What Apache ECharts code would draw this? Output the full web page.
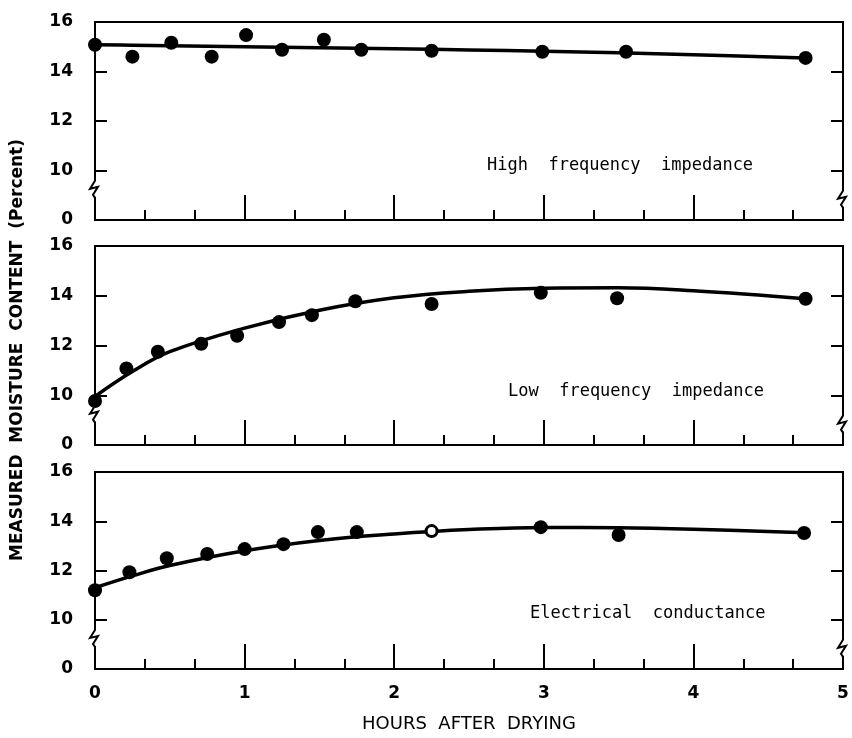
<!doctype html>
<html>
<head>
<meta charset="utf-8">
<title>Measured moisture content</title>
<script src="https://cdn.jsdelivr.net/npm/echarts/dist/echarts.min.js"></script>
<style>
    html,body{
        margin: 0;
        width: 100%;
        height: 100%;
        background: #fff;
    }
    #chart{
        width: 852px;
        height: 738px;
    }
</style>
</head>
<body>
    <div id="chart"></div>
<script>
    // measured points (hours, percent)
    var highX = [0, 0.25, 0.51, 0.78, 1.01, 1.25, 1.53, 1.78, 2.25, 2.99, 3.55, 4.75];
    var highY = [15.08, 14.6, 15.16, 14.6, 15.47, 14.88, 15.28, 14.88, 14.84, 14.8, 14.8, 14.55];
    var lowX = [0, 0.21, 0.42, 0.71, 0.95, 1.23, 1.45, 1.74, 2.25, 2.98, 3.49, 4.75];
    var lowY = [9.77, 11.08, 11.75, 12.07, 12.39, 12.94, 13.22, 13.78, 13.67, 14.12, 13.9, 13.88];
    var elecX = [0, 0.23, 0.48, 0.75, 1.0, 1.26, 1.49, 1.75, 2.98, 3.5, 4.74];
    var elecY = [11.2, 11.93, 12.5, 12.67, 12.87, 13.07, 13.56, 13.56, 13.76, 13.44, 13.52];
    var elecOpenX = [2.25];
    var elecOpenY = [13.6];

    // fitted curves
    var curveX = [0, 0.25, 0.5, 1, 1.5, 2, 2.5, 3, 3.5, 4, 4.75];
    var highFit = [15.08, 15.06, 15.04, 15.0, 14.96, 14.92, 14.87, 14.82, 14.76, 14.68, 14.55];
    var lowFit = [9.95, 10.95, 11.75, 12.7, 13.42, 13.92, 14.18, 14.3, 14.32, 14.2, 13.88];
    var elecFit = [11.3, 11.78, 12.2, 12.8, 13.22, 13.48, 13.66, 13.75, 13.74, 13.68, 13.53];

    // axis: "0" is drawn where 8 would be, below the break
    var yTicks = [8, 10, 12, 14, 16];
    var yTickText = ['0', '10', '12', '14', '16'];
    var xTickText = ['0', '1', '2', '3', '4', '5'];
    var breakLeft = 9.3, breakRight = 8.9;

    var panelNames = ['High  frequency  impedance', 'Low  frequency  impedance', 'Electrical  conductance'];

    function pairs(xs, ys){
        var out = [];
        for(var i = 0; i < xs.length; i++){ out.push([xs[i], ys[i]]); }
        return out;
    }

    function renderBreak(params, api){
        var p = api.coord([api.value(0), api.value(1)]);
        var x = p[0], y = p[1];
        return {
            type: 'group',
            children: [
                {type: 'rect', shape: {x: x - 6, y: y - 9, width: 12, height: 18}, style: {fill: '#fff'}},
                {type: 'polyline', shape: {points: [[x, y - 10], [x, y - 7], [x - 5, y + 1], [x + 3, y - 1], [x - 2, y + 7], [x, y + 10]]},
                    style: {stroke: '#000', lineWidth: 2, fill: null}}
            ]
        };
    }

    var grids = [
        {left: 95, right: 9, top: 22, height: 198},
        {left: 95, right: 9, top: 246, height: 199},
        {left: 95, right: 9, top: 472, height: 197}
    ];
    grids.forEach(function(g){
        g.show = true;
        g.borderColor = '#000';
        g.borderWidth = 2;
        g.backgroundColor = 'transparent';
    });

    var axisFont = {color: '#000', fontFamily: 'DejaVu Sans', fontWeight: 'bold', fontSize: 17};

    var xAxes = [], yAxes = [], series = [];
    for(var i = 0; i < 3; i++){
        xAxes.push({
            type: 'value', gridIndex: i, min: 0, max: 5, interval: 1,
            axisLine: {lineStyle: {color: '#000', width: 2}},
            axisTick: {inside: true, length: 25, lineStyle: {color: '#000', width: 2}},
            minorTick: {show: true, splitNumber: 3, length: 10, lineStyle: {color: '#000', width: 2}},
            splitLine: {show: false},
            axisLabel: i === 2 ? Object.assign({margin: 16, formatter: function(v){ return xTickText[Math.round(v)]; }}, axisFont) : {show: false},
            name: i === 2 ? 'HOURS  AFTER  DRYING' : '',
            nameLocation: 'middle',
            nameGap: 46,
            nameTextStyle: {color: '#000', fontFamily: 'DejaVu Sans', fontSize: 18}
        });
        yAxes.push({
            type: 'value', gridIndex: i, min: yTicks[0], max: yTicks[yTicks.length - 1], interval: 2,
            axisLine: {lineStyle: {color: '#000', width: 2}},
            axisTick: {inside: true, length: 12, lineStyle: {color: '#000', width: 2}},
            splitLine: {show: false},
            axisLabel: Object.assign({margin: 22, formatter: function(v){ return yTickText[yTicks.indexOf(v)]; }}, axisFont)
        });
        yAxes.push({
            type: 'value', gridIndex: i, position: 'right', min: yTicks[0], max: yTicks[yTicks.length - 1], interval: 2,
            axisLine: {lineStyle: {color: '#000', width: 2}},
            axisTick: {inside: true, length: 12, lineStyle: {color: '#000', width: 2}},
            splitLine: {show: false},
            axisLabel: {show: false}
        });
    }

    var fits = [highFit, lowFit, elecFit];
    var pts = [pairs(highX, highY), pairs(lowX, lowY), pairs(elecX, elecY)];
    for(var k = 0; k < 3; k++){
        series.push({
            type: 'custom', xAxisIndex: k, yAxisIndex: k * 2, renderItem: renderBreak, clip: false,
            data: [[0, breakLeft], [5, breakRight]], z: 2, silent: true
        });
        series.push({
            type: 'line', xAxisIndex: k, yAxisIndex: k * 2, smooth: 0.4, showSymbol: false,
            lineStyle: {color: '#000', width: 3.5}, data: pairs(curveX, fits[k]), z: 3
        });
        series.push({
            type: 'scatter', xAxisIndex: k, yAxisIndex: k * 2, symbol: 'circle', symbolSize: 14,
            itemStyle: {color: '#000', opacity: 1}, data: pts[k], z: 4
        });
    }
    series.push({
        type: 'scatter', xAxisIndex: 2, yAxisIndex: 4, symbol: 'circle', symbolSize: 11,
        itemStyle: {color: '#fff', borderColor: '#000', borderWidth: 3, opacity: 1}, data: pairs(elecOpenX, elecOpenY), z: 5
    });

    var labelTop = [167, 393, 615], labelLeft = [487, 508, 530];
    var graphics = [];
    for(var j = 0; j < 3; j++){
        graphics.push({
            type: 'text', left: labelLeft[j], top: labelTop[j] - 10,
            style: {text: panelNames[j], fill: '#000', font: '17px "DejaVu Sans Mono"'}
        });
    }
    graphics.push({
        type: 'text', x: 18, y: 350, rotation: Math.PI / 2,
        style: {text: 'MEASURED  MOISTURE  CONTENT  (Percent)', fill: '#000', font: 'bold 17px "DejaVu Sans"', align: 'center', verticalAlign: 'middle'}
    });

    var option = {
        backgroundColor: '#fff',
        animation: false,
        grid: grids,
        xAxis: xAxes,
        yAxis: yAxes,
        series: series,
        graphic: graphics
    };

    var chart = echarts.init(document.getElementById('chart'));
    chart.setOption(option);
</script>
</body>
</html>
